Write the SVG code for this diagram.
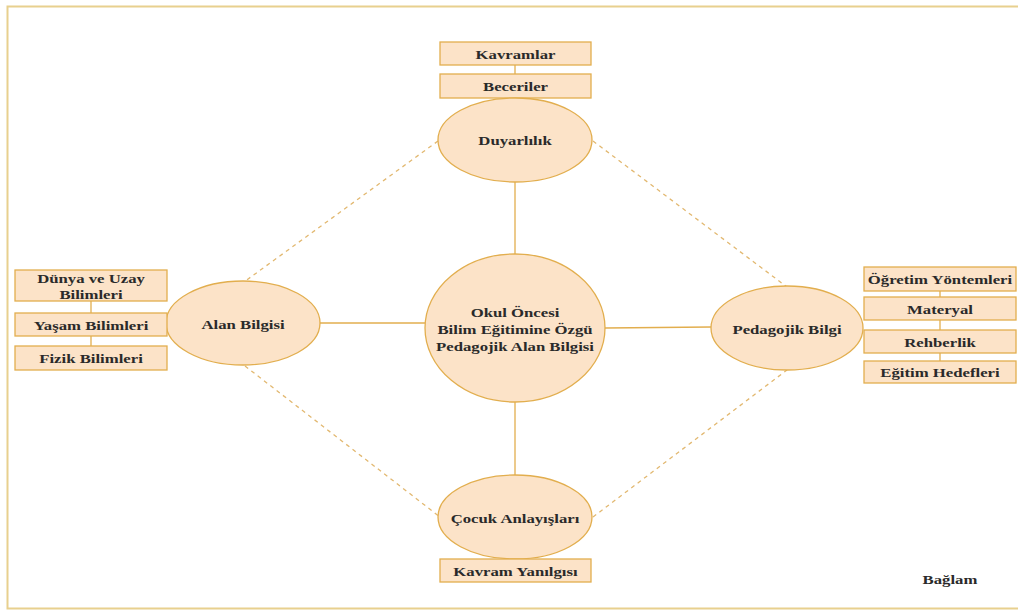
<svg xmlns="http://www.w3.org/2000/svg" width="1018" height="611" viewBox="0 0 1018 611">
  <style>
    .node { fill: #FCE3C8; stroke: #E2AE4E; stroke-width: 1.3; }
    .box { fill: #FCE3C8; stroke: #E2AE4E; stroke-width: 1.3; }
    .lbl { font-family: 'Liberation Serif', serif; font-weight: bold; font-size: 13.5px; fill: #2A2A2A; text-anchor: middle; dominant-baseline: central; }
    .solid { stroke: #E2AE4E; stroke-width: 1.3; fill: none; }
    .dash { stroke: #E2B870; stroke-width: 1.3; fill: none; stroke-dasharray: 4 4; }
    .frame { stroke: #E8D08E; stroke-width: 2; fill: none; }
  </style>
  <rect width="1018" height="611" fill="#FFFFFF"/>
  <!-- outer frame -->
  <path class="frame" d="M1018 6.5 H7.5 V608.5 H1018"/>

  <!-- connectors -->
  <g id="connectors">
    <line class="solid" x1="515" y1="254" x2="515" y2="182"/>
    <line class="solid" x1="425" y1="323" x2="320" y2="323"/>
    <line class="solid" x1="605" y1="328" x2="711" y2="327"/>
    <line class="solid" x1="515" y1="402" x2="515" y2="475"/>
    <line class="solid" x1="515" y1="65" x2="515" y2="74"/>
    <line class="solid" x1="91" y1="301" x2="91" y2="313"/>
    <line class="solid" x1="91" y1="336" x2="91" y2="346"/>
    <line class="solid" x1="940" y1="291" x2="940" y2="297"/>
    <line class="solid" x1="940" y1="320" x2="940" y2="330"/>
    <line class="solid" x1="940" y1="353" x2="940" y2="361"/>
    <line class="dash" x1="438" y1="141" x2="244" y2="282"/>
    <line class="dash" x1="593" y1="141" x2="787" y2="287"/>
    <line class="dash" x1="245" y1="366" x2="440" y2="517"/>
    <line class="dash" x1="593" y1="517" x2="787" y2="370"/>
  </g>

  <!-- labels are widened horizontally with scale(1.24 1) -->
  <g id="center">
    <ellipse class="node" cx="515" cy="328" rx="90" ry="74"/>
    <text class="lbl" transform="translate(515 312) scale(1.24 1)">Okul Öncesi</text>
    <text class="lbl" transform="translate(515 329) scale(1.24 1)">Bilim Eğitimine Özgü</text>
    <text class="lbl" transform="translate(515 346) scale(1.24 1)">Pedagojik Alan Bilgisi</text>
  </g>

  <g id="kavramlar">
    <rect class="box" x="440" y="42" width="151" height="23"/>
    <text class="lbl" transform="translate(515.5 54) scale(1.24 1)">Kavramlar</text>
  </g>
  <g id="beceriler">
    <rect class="box" x="440" y="74" width="151" height="24"/>
    <text class="lbl" transform="translate(515.5 86) scale(1.24 1)">Beceriler</text>
  </g>
  <g id="duyarlilik">
    <ellipse class="node" cx="515" cy="140" rx="77" ry="42"/>
    <text class="lbl" transform="translate(515 140) scale(1.24 1)">Duyarlılık</text>
  </g>

  <g id="alan-bilgisi">
    <ellipse class="node" cx="243" cy="323" rx="77" ry="42"/>
    <text class="lbl" transform="translate(243 324) scale(1.24 1)">Alan Bilgisi</text>
  </g>
  <g id="dunya-uzay">
    <rect class="box" x="15" y="270" width="152" height="31"/>
    <text class="lbl" transform="translate(91 278) scale(1.24 1)">Dünya ve Uzay</text>
    <text class="lbl" transform="translate(91 294) scale(1.24 1)">Bilimleri</text>
  </g>
  <g id="yasam">
    <rect class="box" x="15" y="313" width="152" height="23"/>
    <text class="lbl" transform="translate(91 325) scale(1.24 1)">Yaşam Bilimleri</text>
  </g>
  <g id="fizik">
    <rect class="box" x="15" y="346" width="152" height="24"/>
    <text class="lbl" transform="translate(91 358) scale(1.24 1)">Fizik Bilimleri</text>
  </g>

  <g id="pedagojik-bilgi">
    <ellipse class="node" cx="787" cy="328" rx="76" ry="42"/>
    <text class="lbl" transform="translate(787 329) scale(1.24 1)">Pedagojik Bilgi</text>
  </g>
  <g id="ogretim">
    <rect class="box" x="864" y="267" width="152" height="24"/>
    <text class="lbl" transform="translate(940 279) scale(1.24 1)">Öğretim Yöntemleri</text>
  </g>
  <g id="materyal">
    <rect class="box" x="864" y="297" width="152" height="23"/>
    <text class="lbl" transform="translate(940 309) scale(1.24 1)">Materyal</text>
  </g>
  <g id="rehberlik">
    <rect class="box" x="864" y="330" width="152" height="23"/>
    <text class="lbl" transform="translate(940 342) scale(1.24 1)">Rehberlik</text>
  </g>
  <g id="egitim-hedefleri">
    <rect class="box" x="864" y="361" width="152" height="22"/>
    <text class="lbl" transform="translate(940 372) scale(1.24 1)">Eğitim Hedefleri</text>
  </g>

  <g id="cocuk">
    <ellipse class="node" cx="515" cy="517" rx="77" ry="42"/>
    <text class="lbl" transform="translate(515 518) scale(1.24 1)">Çocuk Anlayışları</text>
  </g>
  <g id="kavram-yanilgisi">
    <rect class="box" x="440" y="559" width="151" height="23"/>
    <text class="lbl" transform="translate(515.5 571) scale(1.24 1)">Kavram Yanılgısı</text>
  </g>

  <text class="lbl" transform="translate(950 579) scale(1.24 1)">Bağlam</text>
</svg>
